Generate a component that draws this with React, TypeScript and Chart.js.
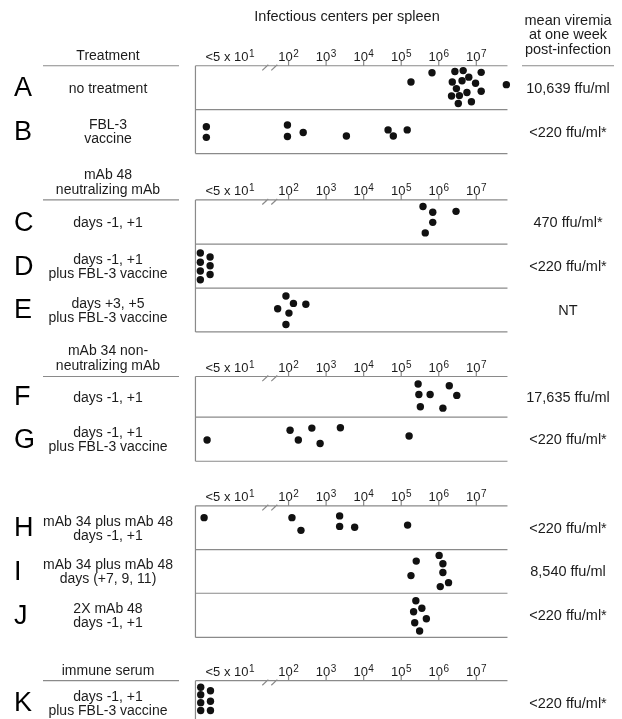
import React, { useEffect, useRef } from "react";
import { Chart, registerables } from "chart.js";

Chart.register(...registerables);

// ---------- DATA ----------
const ROW_LETTERS = ["A", "B", "C", "D", "E", "F", "G", "H", "I", "J", "K"];

const TREATMENTS: string[][] = [
  ["no treatment"],
  ["FBL-3", "vaccine"],
  ["days -1, +1"],
  ["days -1, +1", "plus FBL-3 vaccine"],
  ["days +3, +5", "plus FBL-3 vaccine"],
  ["days -1, +1"],
  ["days -1, +1", "plus FBL-3 vaccine"],
  ["mAb 34 plus mAb 48", "days -1, +1"],
  ["mAb 34 plus mAb 48", "days (+7, 9, 11)"],
  ["2X mAb 48", "days -1, +1"],
  ["days -1, +1", "plus FBL-3 vaccine"],
];

const VIREMIA = [
  "10,639 ffu/ml",
  "<220 ffu/ml*",
  "470 ffu/ml*",
  "<220 ffu/ml*",
  "NT",
  "17,635 ffu/ml",
  "<220 ffu/ml*",
  "<220 ffu/ml*",
  "8,540 ffu/ml",
  "<220 ffu/ml*",
  "<220 ffu/ml*",
];

const GROUP_TITLES: string[][] = [
  ["Treatment"],
  ["mAb 48", "neutralizing mAb"],
  ["mAb 34 non-", "neutralizing mAb"],
  [],
  ["immune serum"],
];

const TITLE = "Infectious centers per spleen";
const VIREMIA_HEADER = ["mean viremia", "at one week", "post-infection"];

const TICK_EXPONENTS = [2, 3, 4, 5, 6, 7];
const BELOW_LABEL_BASE = "<5 x 10";
const BELOW_LABEL_EXP = "1";

// each point: [log10 infectious centers (below-detection ones sit left of the break), vertical spread within the row]
const ROW_A: [number, number][] = [
  [5.26, 0.37], [5.82, 0.16], [6.43, 0.13], [6.65, 0.11], [7.13, 0.15],
  [6.36, 0.37], [6.62, 0.34], [6.8, 0.26], [6.98, 0.4], [6.47, 0.52],
  [7.13, 0.58], [6.75, 0.61], [6.34, 0.69], [6.55, 0.68], [6.52, 0.86],
  [6.87, 0.82], [7.8, 0.43],
];
const ROW_B: [number, number][] = [
  [-0.19, 0.39], [-0.19, 0.63], [1.97, 0.35], [1.97, 0.61], [2.39, 0.52],
  [3.54, 0.6], [4.65, 0.46], [4.79, 0.6], [5.16, 0.46],
];
const ROW_C: [number, number][] = [
  [5.58, 0.15], [5.84, 0.28], [6.46, 0.26], [5.84, 0.51], [5.64, 0.75],
];
const ROW_D: [number, number][] = [
  [-0.35, 0.2], [-0.35, 0.41], [-0.35, 0.61], [-0.35, 0.81],
  [-0.09, 0.29], [-0.09, 0.49], [-0.09, 0.69],
];
const ROW_E: [number, number][] = [
  [1.93, 0.18], [2.13, 0.35], [2.46, 0.37], [1.71, 0.47], [2.01, 0.57], [1.93, 0.83],
];
const ROW_F: [number, number][] = [
  [5.45, 0.17], [6.28, 0.21], [5.47, 0.41], [5.77, 0.41], [6.48, 0.43],
  [5.51, 0.69], [6.11, 0.72],
];
const ROW_G: [number, number][] = [
  [-0.17, 0.52], [2.04, 0.3], [2.26, 0.52], [2.62, 0.25], [2.84, 0.6],
  [3.38, 0.24], [5.21, 0.43],
];
const ROW_H: [number, number][] = [
  [-0.25, 0.27], [2.09, 0.27], [2.33, 0.56], [3.36, 0.23], [3.36, 0.47],
  [3.76, 0.49], [5.17, 0.44],
];
const ROW_I: [number, number][] = [
  [5.4, 0.26], [5.26, 0.59], [6.01, 0.13], [6.11, 0.32], [6.11, 0.52],
  [6.26, 0.75], [6.04, 0.84],
];
const ROW_J: [number, number][] = [
  [5.39, 0.17], [5.55, 0.34], [5.33, 0.42], [5.67, 0.58], [5.36, 0.67], [5.49, 0.86],
];
const ROW_K: [number, number][] = [
  [-0.34, 0.15], [-0.34, 0.32], [-0.34, 0.5], [-0.34, 0.68],
  [-0.08, 0.23], [-0.08, 0.47], [-0.08, 0.68],
];

const ROW_DATA = [ROW_A, ROW_B, ROW_C, ROW_D, ROW_E, ROW_F, ROW_G, ROW_H, ROW_I, ROW_J, ROW_K];

// ---------- LAYOUT ----------
const W = 622;
const H = 719;
// y in row units, x in log10 units
const GROUP_ROW_EDGES = [
  [0, 1, 2],
  [3.055, 4.063, 5.061, 6.061],
  [7.075, 8.0, 9.004],
  [10.018, 11.018, 12.01, 13.015],
  [14.0, 15.0],
];
const X_MIN = 2 - 288.3 / 38;
const X_MAX = X_MIN + W / 38;
const Y_MIN = -62.7 / 44.38;
const Y_MAX = Y_MIN + H / 44.38;
const AXIS_MIN = -0.48;
const AXIS_MAX = 7.83;
const BREAK_AT = 1.5;
const BELOW_LABEL_AT = 0.44;

const LINE_COLOR = "#8a8a8a";
const TEXT_COLOR = "#1c1c1c";
const FONT = '"Liberation Sans", Arial, Helvetica, sans-serif';

const ROW_TOPS: number[] = [];
const ROW_BOTTOMS: number[] = [];
GROUP_ROW_EDGES.forEach((e) => {
  for (let i = 0; i < e.length - 1; i++) {
    ROW_TOPS.push(e[i]);
    ROW_BOTTOMS.push(e[i + 1]);
  }
});

function drawSup(ctx: CanvasRenderingContext2D, cx: number, baseY: number, base: string, exp: string) {
  ctx.font = `13px ${FONT}`;
  const wb = ctx.measureText(base).width;
  ctx.font = `10px ${FONT}`;
  const we = ctx.measureText(exp).width;
  const x0 = cx - (wb + we + 0.5) / 2;
  ctx.textAlign = "left";
  ctx.textBaseline = "alphabetic";
  ctx.font = `13px ${FONT}`;
  ctx.fillText(base, x0, baseY);
  ctx.font = `10px ${FONT}`;
  ctx.fillText(exp, x0 + wb + 0.5, baseY - 4);
}

const figurePlugin = {
  id: "figure",
  beforeDatasetsDraw(chart: any) {
    const { ctx } = chart;
    const xs = chart.scales.x;
    const ys = chart.scales.y;
    ctx.save();
    ctx.strokeStyle = LINE_COLOR;
    ctx.lineWidth = 1.2;
    const x0 = xs.getPixelForValue(AXIS_MIN);
    const x1 = xs.getPixelForValue(AXIS_MAX);
    GROUP_ROW_EDGES.forEach((edges) => {
      const yTop = ys.getPixelForValue(edges[0]);
      const yBot = ys.getPixelForValue(edges[edges.length - 1]);
      ctx.beginPath();
      edges.forEach((e) => {
        const yy = ys.getPixelForValue(e);
        ctx.moveTo(x0, yy);
        ctx.lineTo(x1, yy);
      });
      ctx.moveTo(x0, yTop);
      ctx.lineTo(x0, yBot);
      TICK_EXPONENTS.forEach((n) => {
        const tx = xs.getPixelForValue(n);
        ctx.moveTo(tx, yTop - 5);
        ctx.lineTo(tx, yTop);
      });
      const bx = xs.getPixelForValue(BREAK_AT);
      [-4.5, 4.5].forEach((d) => {
        ctx.moveTo(bx + d - 3, yTop + 4.6);
        ctx.lineTo(bx + d + 3, yTop - 1);
      });
      ctx.stroke();

      // tick labels
      ctx.fillStyle = TEXT_COLOR;
      TICK_EXPONENTS.forEach((n) => {
        drawSup(ctx, xs.getPixelForValue(n), yTop - 4.8, "10", String(n));
      });
      drawSup(ctx, xs.getPixelForValue(BELOW_LABEL_AT), yTop - 4.8, BELOW_LABEL_BASE, BELOW_LABEL_EXP);
    });

    // left group titles and rules
    ctx.fillStyle = TEXT_COLOR;
    ctx.textAlign = "center";
    ctx.textBaseline = "middle";
    ctx.font = `14px ${FONT}`;
    GROUP_TITLES.forEach((lines, g) => {
      if (!lines.length) return;
      const yTop = ys.getPixelForValue(GROUP_ROW_EDGES[g][0]);
      lines.forEach((t, k) => {
        ctx.fillText(t, 108, yTop - 10 - (lines.length - 1 - k) * 15);
      });
      ctx.beginPath();
      ctx.moveTo(43, yTop);
      ctx.lineTo(179, yTop);
      ctx.stroke();
    });

    // title
    ctx.font = `14.5px ${FONT}`;
    ctx.fillText(TITLE, 347, 17);

    // viremia header
    VIREMIA_HEADER.forEach((t, k) => ctx.fillText(t, 568, 20.5 + k * 14.5));
    const hy = ys.getPixelForValue(GROUP_ROW_EDGES[0][0]);
    ctx.beginPath();
    ctx.moveTo(522, hy);
    ctx.lineTo(614, hy);
    ctx.stroke();

    // rows
    ROW_LETTERS.forEach((L, i) => {
      const cy = (ys.getPixelForValue(ROW_TOPS[i]) + ys.getPixelForValue(ROW_BOTTOMS[i])) / 2;
      ctx.textAlign = "left";
      ctx.font = `27px ${FONT}`;
      ctx.fillStyle = "#000";
      ctx.fillText(L, 14, cy + 1);
      ctx.fillStyle = TEXT_COLOR;
      ctx.textAlign = "center";
      ctx.font = `14px ${FONT}`;
      const lines = TREATMENTS[i];
      lines.forEach((t, k) => {
        ctx.fillText(t, 108, cy + 1 + (k - (lines.length - 1) / 2) * 14);
      });
      ctx.font = `14.5px ${FONT}`;
      ctx.fillText(VIREMIA[i], 568, cy + 1);
    });
    ctx.restore();
  },
};

export default function App() {
  const ref = useRef<HTMLCanvasElement | null>(null);
  useEffect(() => {
    document.body.style.margin = "0";
    const canvas = ref.current;
    if (!canvas) return;
    const chart = new Chart(canvas, {
      type: "scatter",
      data: {
        datasets: ROW_DATA.map((pts, i) => ({
          label: ROW_LETTERS[i],
          data: pts.map(([v, f]) => ({ x: v, y: ROW_TOPS[i] + f })),
          pointRadius: 3.7,
          pointHoverRadius: 3.7,
          backgroundColor: "#111",
          borderWidth: 0,
          showLine: false,
        })),
      },
      options: {
        animation: false,
        responsive: false,
        events: [],
        layout: { padding: 0 },
        plugins: { legend: { display: false }, tooltip: { enabled: false } },
        scales: {
          x: { type: "linear", display: false, min: X_MIN, max: X_MAX },
          y: { type: "linear", display: false, min: Y_MIN, max: Y_MAX, reverse: true },
        },
      },
      plugins: [figurePlugin],
    } as any);
    return () => chart.destroy();
  }, []);
  return (
    <div style={{ width: W, height: H, background: "#fff" }}>
      <canvas ref={ref} width={W} height={H} style={{ display: "block" }} />
    </div>
  );
}
